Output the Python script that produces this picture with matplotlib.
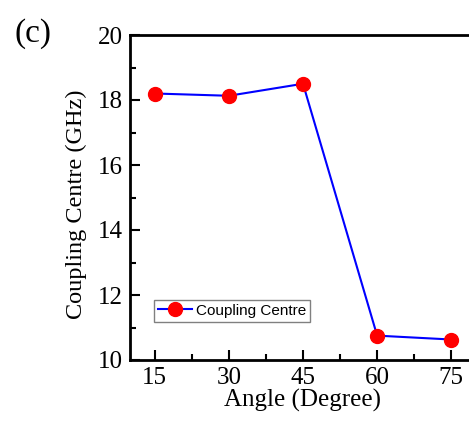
import matplotlib
matplotlib.use('Agg')
import matplotlib.pyplot as plt
from matplotlib.ticker import MultipleLocator

plt.rcParams.update({
    'font.family': 'Liberation Serif',
    'font.size': 18,
})

angles = [15, 30, 45, 60, 75]
coupling_centre = [18.2, 18.13, 18.5, 10.75, 10.63]

fig = plt.figure(figsize=(4.69, 4.24), dpi=100)
# axes extends past the right edge of the figure (cropped as in the original)
ax = fig.add_axes([130 / 469, 1 - 360 / 424, (476 - 130) / 469, (360 - 35) / 424])

ax.plot(angles, coupling_centre, color='blue', linewidth=1.5, marker='o',
        markersize=10, markerfacecolor='red', markeredgecolor='red',
        label='Coupling Centre')

ax.set_xlim(10, 80)
ax.set_ylim(10, 20)
ax.xaxis.set_major_locator(MultipleLocator(15))
ax.xaxis.set_minor_locator(MultipleLocator(7.5))
ax.yaxis.set_major_locator(MultipleLocator(2))
ax.yaxis.set_minor_locator(MultipleLocator(1))
ax.tick_params(which='both', direction='in', width=1.5, top=False, right=False)
ax.tick_params(which='major', length=7, labelsize=18, pad=5)
ax.tick_params(which='minor', length=4)
for s in ax.spines.values():
    s.set_linewidth(2)

ax.set_xlabel('Angle (Degree)', fontsize=18, labelpad=0)
ax.set_ylabel('Coupling Centre (GHz)', fontsize=17.5)
ax.yaxis.set_label_coords(-0.125, 0.48)

leg = ax.legend(loc='lower left', bbox_to_anchor=(0.07, 0.118),
                prop={'family': 'Liberation Sans', 'size': 11},
                fancybox=False, framealpha=1, edgecolor='gray',
                handlelength=2.2, borderpad=0.25, handletextpad=0.3,
                borderaxespad=0)
leg.get_frame().set_linewidth(1)

fig.text(14 / 469, 1 - 42 / 424, '(c)', fontsize=24)

fig.savefig('out.png', dpi=100)
